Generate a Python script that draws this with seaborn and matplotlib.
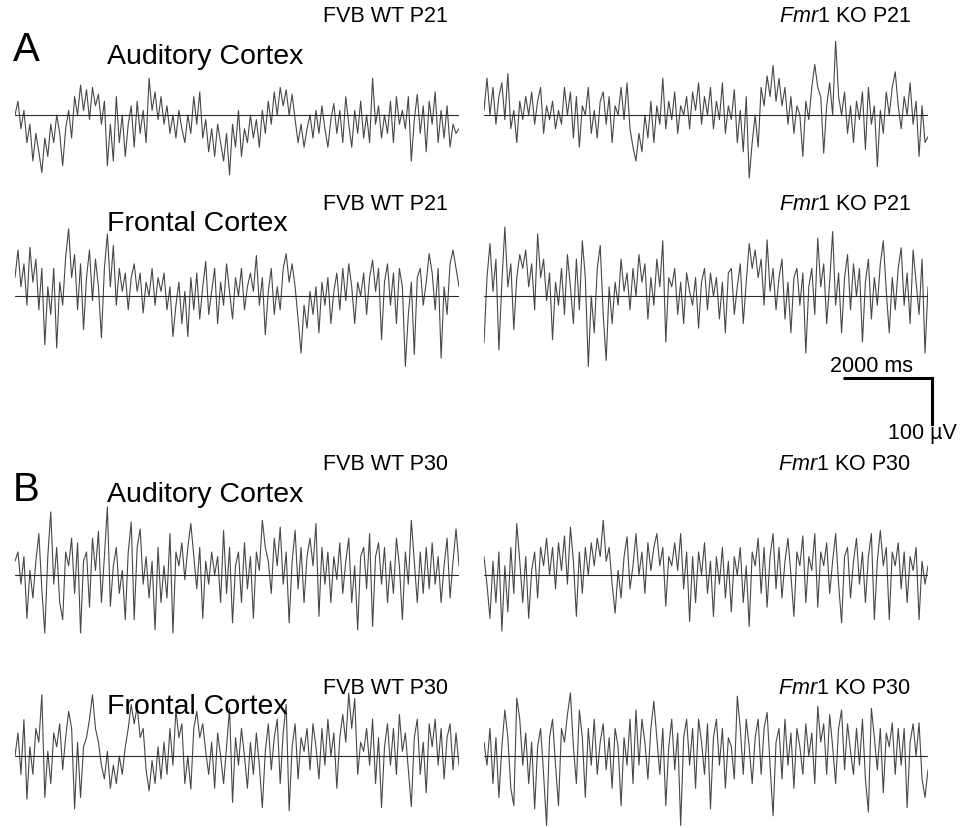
import numpy as np
import matplotlib.pyplot as plt
import seaborn as sns

sns.set_theme(style="white")
plt.rcParams['font.family'] = ['Liberation Sans', 'DejaVu Sans']
plt.rcParams['text.color'] = 'black'
plt.rcParams['mathtext.fontset'] = 'custom'
plt.rcParams['mathtext.it'] = 'Liberation Sans:italic'
plt.rcParams['mathtext.rm'] = 'Liberation Sans'

# EEG traces (µV), 10 s each
DUR_MS = 10000
SCALE_MS = 2000
SCALE_UV = 100

wt_p21_aud = [0, 30, -30, 10, -60, -20, -100, -40, -80, -125,
              -50, -90, -20, -60, 0, -40, -110, -30, 10, -50,
              40, 0, 65, 10, 55, -10, 60, 20, 45, -20,
              30, -110, -20, -100, 40, -60, 0, -90, -20, 20,
              -70, 30, -40, 10, -60, 80, 10, 50, -10, 40,
              -20, 20, -40, 0, -50, 10, -30, -60, 0, -40,
              40, -20, 50, -50, -10, -80, -30, -90, -20, -60,
              -100, -40, -130, -20, -70, 10, -90, -30, -60, 0,
              -50, -10, -70, 10, -40, 30, -20, 50, 0, 60,
              20, 55, 0, 45, -10, -60, -20, -70, -30, 0,
              -50, 10, -40, 20, -30, -70, -10, 25, -40, 10,
              -60, 40, -20, -70, 10, -40, 30, -50, 0, -60,
              80, -20, 20, -50, 0, -40, 30, -60, 40, -20,
              10, -30, 40, -100, -10, 45, -40, 20, -80, 30,
              -20, 50, -60, 10, -50, 20, -70, -20, -40, -30]

ko_p21_aud = [10, 80, 0, 60, -20, 40, 70, -10, 90, -30,
              10, -60, 30, -10, 40, 0, 50, -20, 30, 60,
              -40, 20, -10, 30, -30, 10, -20, 60, 0, 50,
              -50, 40, -70, 20, 0, 60, -40, 10, -50, 30,
              50, -20, 40, -60, 20, 0, 60, -10, 70, -30,
              -70, -100, -40, -80, 0, -50, 30, -60, 20, -20,
              80, -30, 30, -10, 50, -40, 20, 0, 40, -30,
              50, 10, 70, -20, 40, 0, 60, -30, 30, -10,
              70, -40, 20, -10, 55, -60, 10, -80, 40, -137,
              -60, 0, -70, 60, 20, 85, 40, 108, 30, 80,
              20, 60, -20, 40, -40, 20, 0, -90, 30, -10,
              60, 110, 60, 40, -83, 20, 70, 0, 162, 40,
              0, 50, -40, 20, -60, 30, -10, 50, -75, 60,
              -20, 20, -112, 10, -40, 50, 0, 60, 94, 20,
              -30, 40, 0, 70, -20, 30, -90, 20, -60, -47]

wt_p21_fro = [40, 100, 20, 70, -20, 106, 30, 80, -30, 60,
              -106, 20, -40, 60, -113, 30, -20, 85, 146, 40,
              90, -30, 70, -73, 40, 100, -10, 80, 20, -91,
              60, 135, 20, 110, -20, 60, 10, 50, -30, 40,
              70, 10, 50, -37, 30, 0, 60, -20, 40, 10,
              50, -30, 20, -88, -20, 30, -60, 10, -88, 40,
              -30, 50, -50, 20, 75, -40, 10, 60, -60, 30,
              -20, 70, 10, -50, 40, 0, 60, -30, 20, 50,
              10, 88, -20, 40, -84, 10, 60, -40, 20, -30,
              60, 92, 30, 70, 20, -50, -124, -20, -70, 10,
              -40, 20, -80, 30, -20, 40, -60, 10, 50, -30,
              60, -10, 70, 20, -60, 30, 0, 50, -40, 40,
              78, 10, 60, -95, 30, 70, -20, 50, -60, 60,
              20, -153, -40, 30, -127, 40, 60, -20, 30, 92,
              50, -30, 60, -135, 20, -40, 70, 100, 60, 20]

ko_p21_fro = [-102, 40, 114, 10, 80, -117, 30, 150, 20, 70,
              -73, 40, 90, 60, 100, 20, 70, -30, 135, 40,
              80, -10, 50, -95, 30, -20, 60, -40, 90, 20,
              -60, 80, -30, 120, 40, -153, 0, -80, 60, 110,
              -40, -140, 20, -60, 30, -20, 80, 10, 50, -30,
              60, 0, 90, 30, 70, -50, 40, -20, 80, 20,
              120, -100, 40, 20, 60, -40, 30, -60, 50, 10,
              -20, 40, -70, 30, 60, -30, 50, 0, 40, -50,
              30, -80, 50, 60, -40, 20, 70, -60, 30, 114,
              60, 100, 40, 80, -20, 122, 10, 60, -30, 40,
              80, -50, 30, -80, 40, 60, -20, 50, -124, 20,
              60, -40, 126, 20, 70, -60, 30, 140, -20, 50,
              -80, 40, 90, -30, 70, 0, 60, -100, 30, 80,
              -50, 40, -20, 70, 120, 10, -80, 40, -30, 60,
              105, -20, 50, -60, 100, 30, -40, 80, -124, 20]

wt_p30_aud = [30, 50, -20, 40, -94, 10, -50, 30, 90, -30,
              -126, 40, 137, -20, 60, -60, -97, 50, 20, 80,
              -40, 70, -126, 30, 50, -70, 80, 10, 95, -60,
              40, 148, -68, 20, 60, -40, 10, -97, 50, 115,
              -97, 60, 100, -20, 40, -50, 30, -119, 60, -60,
              20, -50, 90, -126, 50, 20, 70, -10, 60, 112,
              40, -30, 60, -94, 30, -20, 50, 0, 40, -60,
              97, -40, 60, -104, 20, 50, -60, 70, -30, 40,
              -94, 50, 10, 119, 60, 30, -40, 80, 20, 104,
              -20, 50, -104, 30, 97, -30, 60, -60, 40, 80,
              20, 112, -90, 60, -20, 50, -60, 40, -10, 70,
              -40, 30, 80, -60, 20, -119, 40, 60, -30, 90,
              -112, 40, 70, -20, 60, -60, 30, -40, 80, 20,
              -97, 50, -20, 119, 30, -60, 50, -40, 60, -30,
              70, -20, 40, -60, 20, 80, -50, 30, 100, 20]

ko_p30_aud = [40, -20, -94, 30, -60, 50, -122, 20, -80, 60,
              -40, 112, 30, -60, 40, -94, 10, 50, -50, 60,
              20, 80, 0, 60, -30, 70, 10, 85, -20, 104,
              30, -90, 50, -40, 60, 0, 70, 20, 80, 40,
              119, 30, 60, -20, -83, 10, -50, 40, 83, -30,
              20, 90, 0, 50, -40, 70, 10, 60, 90, 20,
              60, -68, 40, 20, 70, 10, 90, -30, 50, -101,
              40, -60, 50, 0, 70, -40, 30, -90, 40, -20,
              60, -50, 30, -80, 40, 0, 60, -60, 20, -112,
              50, 20, 80, -40, 60, -70, 40, 90, -30, 60,
              -50, 30, 80, 0, -90, 50, 20, 85, -60, 40,
              10, 90, -70, 50, 20, 70, -40, 30, 90, -20,
              -104, 40, 60, -50, 30, 80, -20, 50, -60, 40,
              90, -97, 30, 97, 20, 60, -97, 50, 20, 70,
              -30, 50, -60, 40, 10, 60, -97, 30, -20, 20]

wt_p30_fro = [0, 50, -40, 79, -94, 20, -40, 60, 30, 133,
              -90, 10, -60, 50, 20, 70, -30, 40, 97, 60,
              -115, 30, -90, 20, 40, 80, 133, 60, 30, -20,
              -50, 10, -70, -20, -60, 0, -40, 20, 60, 112,
              70, 108, 40, 60, -30, -76, -10, -60, 20, -50,
              30, -40, 60, -20, 100, 40, 70, -60, 0, -72,
              60, 97, 40, 70, 10, -40, 30, -70, 50, 0,
              -60, 20, 104, -101, 40, -20, 60, 0, -70, 30,
              -40, 50, -20, -112, 10, 70, -30, 40, 80, -60,
              50, 112, -119, 20, 70, -50, 40, 10, 60, -30,
              70, 20, -50, 60, -20, 80, 0, 50, -70, 40,
              90, 30, 137, 60, 125, -40, 30, 10, 60, -20,
              80, -60, 40, -112, 20, 70, -20, 60, -40, 90,
              10, 50, -30, -110, 40, 80, -40, 30, -80, 70,
              20, 80, -20, 60, -50, 40, 70, -30, 50, -20]

ko_p30_fro = [30, -20, 60, -60, 40, -90, 20, 100, 40, -70,
              -108, 126, 80, -20, 50, -60, 30, -115, 20, 60,
              -40, -151, 40, 80, -20, -108, 60, 30, 90, 137,
              20, -60, 100, 40, -90, 60, -20, 80, -40, 30,
              70, -30, 40, -70, 60, 20, -108, 40, -20, 80,
              -60, 100, -20, 80, 30, -50, 60, 119, 40, -40,
              60, -108, 20, 80, -30, 50, -151, 40, 80, -20,
              60, -70, 80, 30, -40, 70, -115, 40, 80, -20,
              60, -70, 40, 20, -50, 130, 60, -40, 80, 20,
              -60, 40, 80, -40, 60, 95, -20, -130, 30, 60,
              -50, 80, -20, 50, -70, 60, 20, -40, 70, 0,
              50, -60, 108, 30, 70, -40, 90, 20, -60, 60,
              100, -30, 70, 10, -40, 60, -20, 80, -50, -122,
              104, 40, -30, 60, -80, 50, 20, 72, -40, 60,
              -20, 60, -112, 30, 70, 0, 72, -50, -90, -30]

groups_p21 = ['FVB WT P21', r'$\mathit{Fmr1}$ KO P21']
groups_p30 = ['FVB WT P30', r'$\mathit{Fmr1}$ KO P30']
regions = ['Auditory Cortex', 'Frontal Cortex']
panel_letters = ['A', 'B']

W, H = 962, 829
fig = plt.figure(figsize=(W / 100, H / 100), dpi=100)
UV_PX = 0.46      # pixels per µV
YLIM = 160
AX_W = 444
trace_color = '#474747'


def px(x, y):
    return x / W, 1 - y / H


def trace_ax(left, base):
    half = YLIM * UV_PX
    ax = fig.add_axes([left / W, 1 - (base + half) / H, AX_W / W, 2 * half / H])
    ax.set_xlim(0, DUR_MS)
    ax.set_ylim(-YLIM, YLIM)
    ax.axis('off')
    return ax


panels = [(wt_p21_aud, 15, 116), (ko_p21_aud, 484, 116),
          (wt_p21_fro, 15, 297), (ko_p21_fro, 484, 297),
          (wt_p30_aud, 15, 576), (ko_p30_aud, 484, 576),
          (wt_p30_fro, 15, 757), (ko_p30_fro, 484, 757)]

axes = []
for vals, left, base in panels:
    ax = trace_ax(left, base)
    t = np.linspace(0, DUR_MS, len(vals))
    ax.axhline(0, color='#2a2a2a', lw=0.8, zorder=3)
    sns.lineplot(x=t, y=vals, ax=ax, color=trace_color, linewidth=0.8)
    axes.append(ax)

# scale bar on the Fmr1 KO P21 frontal trace
sb = axes[3]
x0 = DUR_MS - SCALE_MS + 86
y0 = -178
sb.plot([x0, x0 + SCALE_MS], [y0, y0], color='black', lw=2.2, clip_on=False,
        solid_capstyle='butt')
sb.plot([x0 + SCALE_MS, x0 + SCALE_MS], [y0, y0 - SCALE_UV], color='black', lw=2.2,
        clip_on=False, solid_capstyle='projecting')
fig.text(*px(872, 366), f'{SCALE_MS} ms', ha='center', va='center', fontsize=15.5)
fig.text(*px(922, 433), f'{SCALE_UV} µV', ha='center', va='center', fontsize=15.5)

# labels
row_y = [(16, 57, 205, 224), (465, 495, 689, 707)]
for letter, groups, (gy1, ry1, gy2, ry2), ly in zip(panel_letters, [groups_p21, groups_p30],
                                                    row_y, [50, 490]):
    fig.text(*px(13, ly), letter, ha='left', va='center', fontsize=29)
    for gy, ry, reg in [(gy1, ry1, regions[0]), (gy2, ry2, regions[1])]:
        fig.text(*px(448, gy), groups[0], ha='right', va='center', fontsize=15.5)
        fig.text(*px(911, gy), groups[1], ha='right', va='center', fontsize=15.5)
        fig.text(*px(107, ry), reg, ha='left', va='center', fontsize=20.5)

plt.savefig('out.png', dpi=100, facecolor='white')
